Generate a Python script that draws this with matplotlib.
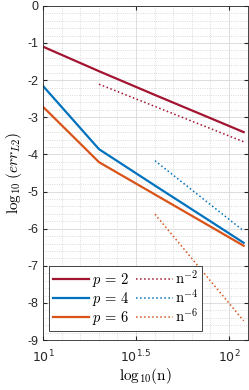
import matplotlib

matplotlib.use('Agg')
import matplotlib.pyplot as plt
import numpy as np

# values (y already in log10)
n_vals = [10, 20, 40, 80, 120]
err_p2 = [-1.10, -1.76, -2.40, -3.03, -3.40]
err_p4 = [-2.16, -3.86, -4.84, -5.81, -6.38]
err_p6 = [-2.72, -4.21, -5.08, -5.95, -6.46]

ref2_n = [20, 120]
ref2 = [-2.11, -3.66]
ref4_n = [40, 120]
ref4 = [-4.17, -6.06]
ref6_n = [40, 120]
ref6 = [-5.61, -8.48]

y_ticks = [0, -1, -2, -3, -4, -5, -6, -7, -8, -9]
x_ticks = [1, 1.5, 2]
x_tick_labels = ['$10^{1}$', '$10^{1.5}$', '$10^{2}$']

RED = '#A2142F'
BLUE = '#0072BD'
ORANGE = '#D95319'

plt.rcParams['axes.unicode_minus'] = False
plt.rcParams['mathtext.fontset'] = 'cm'
plt.rcParams['font.family'] = ['Liberation Sans', 'DejaVu Sans']

fig = plt.figure(figsize=(2.49, 3.90), dpi=100)
ax = fig.add_axes([0.173, 0.128, 0.821, 0.857])

x = np.log10(n_vals)
ax.plot(x, err_p2, color=RED, lw=1.6, label=r'$p\,=\,2$')
ax.plot(x, err_p4, color=BLUE, lw=1.6, label=r'$p\,=\,4$')
ax.plot(x, err_p6, color=ORANGE, lw=1.6, label=r'$p\,=\,6$')
ax.plot(np.log10(ref2_n), ref2, color=RED, lw=1.1, ls=':', label=r'$\mathrm{n}^{-2}$')
ax.plot(np.log10(ref4_n), ref4, color=BLUE, lw=1.1, ls=':', label=r'$\mathrm{n}^{-4}$')
ax.plot(np.log10(ref6_n), ref6, color=ORANGE, lw=1.1, ls=':', label=r'$\mathrm{n}^{-6}$')

ax.set_xlim(1, 2.1)
ax.set_ylim(-9, 0)
ax.set_yticks(y_ticks)
ax.set_yticklabels([str(v) for v in y_ticks])
ax.set_xticks(x_ticks)
ax.set_xticklabels(x_tick_labels)
for lbl in ax.get_xticklabels():
    lbl.set_math_fontfamily('dejavusans')
ax.set_xticks(np.arange(1.1, 2.1, 0.1), minor=True)
ax.set_yticks(np.arange(-9, 0.01, 0.2), minor=True)
ax.tick_params(which='both', direction='in', top=True, right=True, labelsize=9,
               color='#262626', labelcolor='#262626')
ax.tick_params(which='major', length=3)
ax.tick_params(which='minor', length=0)
ax.tick_params(axis='x', pad=6)

ax.grid(True, which='major', color='#d8d8d8', lw=0.6)
ax.grid(True, which='minor', color='#d0d0d0', lw=0.6, ls=':')
ax.set_axisbelow(True)
for sp in ax.spines.values():
    sp.set_color('#262626')
    sp.set_linewidth(0.6)

ax.set_xlabel(r'$\mathrm{log}_{10}(\mathrm{n})$', fontsize=11, labelpad=1)
ax.set_ylabel(r'$\mathrm{log}_{10}\;(err_{L2})$', fontsize=11, labelpad=2)

leg = ax.legend(ncol=2, loc='lower left', bbox_to_anchor=(0.03, 0.027), fontsize=10.5,
                handlelength=2.5, handletextpad=0.15, columnspacing=0.5,
                labelspacing=0.08, borderpad=0.25, borderaxespad=0, fancybox=False,
                framealpha=1, edgecolor='#262626')
leg.get_frame().set_linewidth(0.6)

plt.savefig('out.png', dpi=100)
